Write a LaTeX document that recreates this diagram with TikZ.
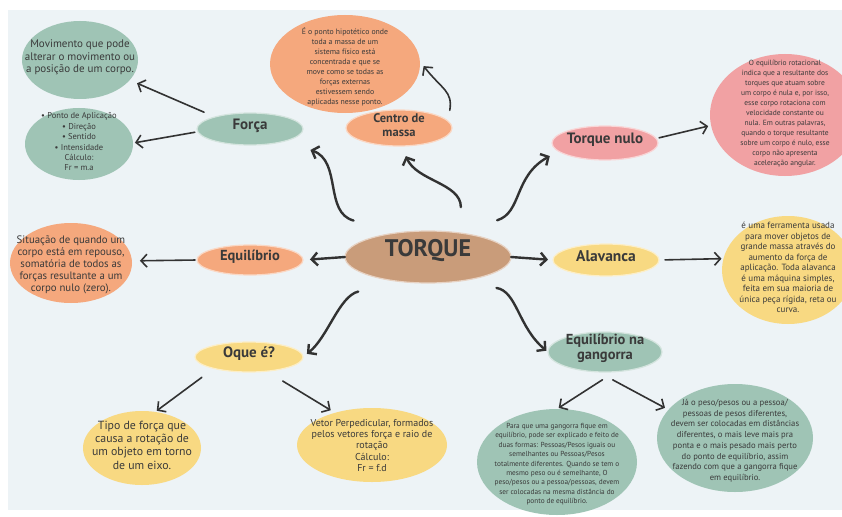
\documentclass[tikz,border=0pt]{standalone}
\usepackage{fontspec}
\setmainfont{PT Sans}
\usetikzlibrary{shapes.geometric,arrows.meta}
\definecolor{bgcol}{RGB}{237,243,246}
\definecolor{sage}{RGB}{159,196,181}
\definecolor{peach}{RGB}{245,168,125}
\definecolor{rose}{RGB}{241,161,163}
\definecolor{sand}{RGB}{248,217,130}
\definecolor{tan}{RGB}{201,156,122}
\definecolor{ink}{RGB}{58,58,58}
\definecolor{arrowink}{RGB}{50,50,50}
\newcommand{\fs}[2]{\fontsize{#1}{#2}\selectfont}
\newcommand{\bub}[2][0pt]{\makebox[0pt]{\smash{\raisebox{#1}{\parbox{8cm}{\centering #2}}}}}

\begin{document}
\begin{tikzpicture}[ x = 1pt, y = 1pt,
                     every node/.style={inner sep=0pt,outer sep=0pt,text=ink},
                     topic/.style={ellipse,fill=#1,draw=#1!45!white,line width=1.2pt},
                     bubble/.style={ellipse,fill=#1},
                     link/.style={draw=arrowink,line width=1.6pt,line cap=round,
                                  -{Straight Barb[length=6pt,width=13pt]}},
                     heavy/.style={link,line width=2.4pt},
                   ]
 \useasboundingbox (0,0) rectangle (842,-516);
 \fill[bgcol] (8,-10) rectangle (842,-510);

 \draw (428,-257) node[topic=tan,minimum width=166pt,minimum height=52pt,
                       font=\fs{24}{26}\bfseries] (torque) {\bub{TORQUE}};
 \draw (250,-129) node[topic=sage,minimum width=106pt,minimum height=32pt,
                       font=\fs{15}{17}\bfseries] (forca) {\bub{Força}};
 \draw (399,-128) node[topic=peach,minimum width=106pt,minimum height=36pt,
                       font=\fs{12.5}{13.5}\bfseries] (massa) {\bub{Centro de\\massa}};
 \draw (605,-143) node[topic=rose,minimum width=106pt,minimum height=34pt,
                       font=\fs{15}{17}\bfseries] (nulo) {\bub{Torque nulo}};
 \draw (606,-260) node[topic=sand,minimum width=106pt,minimum height=32pt,
                       font=\fs{15.5}{17}\bfseries] (alavanca) {\bub{Alavanca}};
 \draw (250,-260) node[topic=peach,minimum width=106pt,minimum height=30pt,
                       font=\fs{14.5}{16}\bfseries] (equil) {\bub{Equilíbrio}};
 \draw (249,-357) node[topic=sand,minimum width=108pt,minimum height=30pt,
                       font=\fs{15}{17}\bfseries] (oque) {\bub{Oque é?}};
 \draw (605,-352) node[topic=sage,minimum width=114pt,minimum height=40pt,
                       font=\fs{14.5}{15.5}\bfseries] (gangorra) {\bub{Equilíbrio na\\gangorra}};

 \draw (80,-60)   node[bubble=sage,minimum width=116pt,minimum height=78pt,font=\fs{11}{12.5}]
                  (movimento) {\bub{Movimento que pode\\alterar o movimento ou\\a posição de um corpo.}};
 \draw (79,-144)  node[bubble=sage,minimum width=108pt,minimum height=72pt,font=\fs{8.5}{10.4}]
                  (ponto) {\bub{• Ponto de Aplicação\\• Direção\\• Sentido\\• Intensidade\\Cálculo:\\Fr = m.a}};
 \draw (345,-64)  node[bubble=peach,minimum width=150pt,minimum height=98pt,font=\fs{7.8}{9.9}]
                  (descmassa) {\bub[-5pt]{É o ponto hipotético onde\\toda a massa de um\\sistema físico está\\
                               concentrada e que se\\move como se todas as\\forças externas\\
                               estivessem sendo\\aplicadas nesse ponto.}};
 \draw (785,-115) node[bubble=rose,minimum width=150pt,minimum height=122pt,font=\fs{7.5}{10}]
                  (descnulo) {\bub{O equilíbrio rotacional\\indica que a resultante dos\\
                              torques que atuam sobre\\um corpo é nula e, por isso,\\
                              esse corpo rotaciona com\\velocidade constante ou\\
                              nula. Em outras palavras,\\quando o torque resultante\\
                              sobre um corpo é nulo, esse\\corpo não apresenta\\aceleração angular.}};
 \draw (788,-270) node[bubble=sand,minimum width=132pt,minimum height=108pt,font=\fs{9}{10.5}]
                  (descalav) {\bub{é uma ferramenta usada\\para mover objetos de\\
                              grande massa através do\\aumento da força de\\
                              aplicação. Toda alavanca\\é uma máquina simples,\\
                              feita em sua maioria de\\única peça rígida, reta ou\\curva.}};
 \draw (71,-263)  node[bubble=peach,minimum width=122pt,minimum height=80pt,font=\fs{10.8}{12}]
                  (descequil) {\bub[-5pt]{Situação de quando um\\corpo está em repouso,\\
                               somatória de todos as\\forças resultante a um\\corpo nulo (zero).}};
 \draw (142,-448) node[bubble=sand,minimum width=118pt,minimum height=74pt,font=\fs{11.8}{13.3}]
                  (tipo) {\bub{Tipo de força que\\causa a rotação de\\um objeto em torno\\de um eixo.}};
 \draw (372,-445) node[bubble=sand,minimum width=150pt,minimum height=74pt,font=\fs{10}{11.3}]
                  (vetor) {\bub[-3pt]{Vetor Perpedicular, formados\\pelos vetores força e raio de\\
                           rotação\\Cálculo:\\Fr = f.d}};
 \draw (557,-462) node[bubble=sage,minimum width=160pt,minimum height=106pt,font=\fs{7.3}{9.4}]
                  (gleft) {\bub[-4pt]{Para que uma gangorra fique em\\equilíbrio, pode ser explicado e feito de\\
                           duas formas: Pessoas/Pesos iguais ou\\semelhantes ou Pessoas/Pesos\\
                           totalmente diferentes. Quando se tem o\\mesmo peso ou é semelhante, O\\
                           peso/pesos ou a pessoa/pessoas, devem\\ser colocadas na mesma distância do\\
                           ponto de equilíbrio.}};
 \draw (735,-438) node[bubble=sage,minimum width=156pt,minimum height=108pt,font=\fs{8.6}{10.7}]
                  (gright) {\bub[-5pt]{Já o peso/pesos ou a pessoa/\\pessoas de pesos diferentes,\\
                            devem ser colocadas em distâncias\\diferentes, o mais leve mais pra\\
                            ponta e o mais pesado mais perto\\do ponto de equilíbrio, assim\\
                            fazendo com que a gangorra fique\\em equilíbrio.}};

 \draw[link,shorten <=12pt,shorten >=8pt] (forca.161) -- (movimento.-22);
 \draw[link,shorten <=3pt,shorten >=2pt]  (forca.183) -- (ponto.1);
 \draw[heavy,shorten <=47pt,shorten >=27pt] (torque.140) .. controls +(-75,20) and +(57,-20) .. (forca.-19);
 \draw[heavy,shorten <=26pt,shorten >=11pt] (torque.36) .. controls +(0,50) and +(15,-35) .. (massa.-82);
 \draw[link,shorten <=11pt,shorten >=6pt] (massa.8) .. controls +(5,30) and +(22,-28) .. (descmassa.2);
 \draw[heavy,shorten <=42pt,shorten >=10pt] (torque.40) .. controls +(65,20) and +(-45,-25) .. (nulo.190);
 \draw[link,shorten <=3pt,shorten >=3pt]  (nulo.5) -- (descnulo.188);
 \draw[heavy,shorten >=5pt] (torque.0) -- (alavanca.180);
 \draw[link,shorten <=6pt,shorten >=2pt]  (alavanca.0) -- (descalav.170);
 \draw[heavy,shorten >=7pt] (torque.180) -- (equil.0);
 \draw[link,shorten <=2pt,shorten >=8pt]  (equil.180) -- (descequil.2);
 \draw[heavy,shorten <=42pt,shorten >=5pt] (torque.220) .. controls +(-60,-15) and +(25,20) .. (oque.0);
 \draw[link,shorten <=15pt,shorten >=2pt] (oque.198) -- (tipo.70);
 \draw[link,shorten <=19pt,shorten >=5pt] (oque.-39) -- (vetor.139);
 \draw[heavy,shorten <=40pt,shorten >=2pt] (torque.-40) .. controls +(60,-10) and +(-30,25) .. (gangorra.180);
 \draw[link,shorten <=15pt,shorten >=2pt] (gangorra.-63) -- (gleft.90);
 \draw[link,shorten <=17pt,shorten >=4pt] (gangorra.250) -- (gright.157);

\end{tikzpicture}
\end{document}
